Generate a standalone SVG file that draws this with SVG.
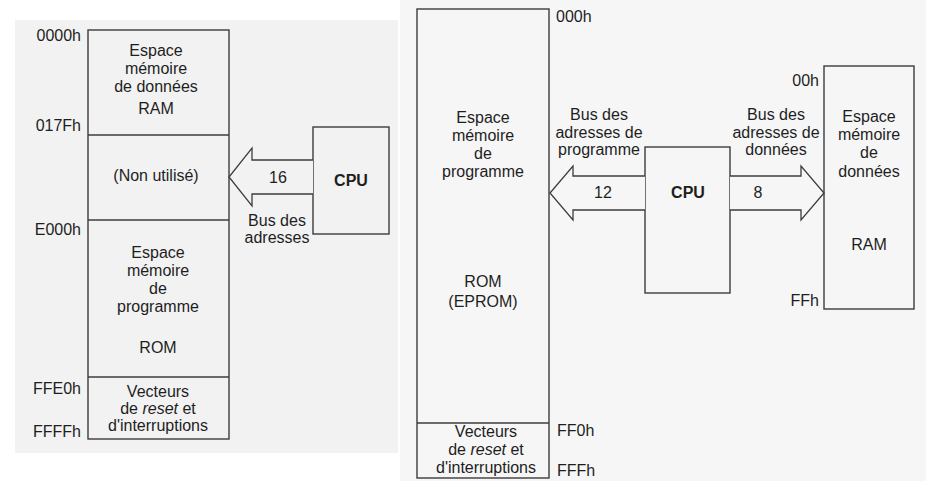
<svg xmlns="http://www.w3.org/2000/svg" width="926" height="481" viewBox="0 0 926 481">
<style>
  text { font-family: "Liberation Sans", Arial, sans-serif; font-size: 16px; fill: #1e1e1e; }
  .c { text-anchor: middle; }
  .e { text-anchor: end; }
  .b { font-weight: bold; }
  .box { fill: none; stroke: #3c3c3c; stroke-width: 1.4; }
  .div { stroke: #3c3c3c; stroke-width: 1.4; }
  .bus { stroke: #3c3c3c; stroke-width: 1.3; stroke-linejoin: miter; }
</style>
<rect x="0" y="0" width="926" height="481" fill="#ffffff"/>
<rect x="15" y="20" width="383" height="433" fill="#f2f2f2"/>
<rect x="400" y="0" width="526" height="481" fill="#f6f6f6"/>

<!-- LEFT DIAGRAM -->
<g id="left-memory-map">
  <rect class="box" x="88" y="30" width="141" height="409"/>
  <line class="div" x1="88" y1="135" x2="229" y2="135"/>
  <line class="div" x1="88" y1="220" x2="229" y2="220"/>
  <line class="div" x1="88" y1="377" x2="229" y2="377"/>
  <text class="e" x="81" y="41">0000h</text>
  <text class="e" x="81" y="131">017Fh</text>
  <text class="e" x="81" y="235">E000h</text>
  <text class="e" x="81" y="394">FFE0h</text>
  <text class="e" x="81" y="437">FFFFh</text>
  <text class="c" x="156" y="56">Espace</text>
  <text class="c" x="156" y="74">mémoire</text>
  <text class="c" x="156" y="92">de données</text>
  <text class="c" x="156" y="114">RAM</text>
  <text class="c" x="156" y="181">(Non utilisé)</text>
  <text class="c" x="158" y="258">Espace</text>
  <text class="c" x="158" y="276">mémoire</text>
  <text class="c" x="158" y="294">de</text>
  <text class="c" x="158" y="312">programme</text>
  <text class="c" x="158" y="353">ROM</text>
  <text class="c" x="158" y="397">Vecteurs</text>
  <text class="c" x="158" y="414">de <tspan font-style="italic">reset</tspan> et</text>
  <text class="c" x="158" y="431">d'interruptions</text>
</g>
<g id="left-cpu">
  <rect class="box" x="313" y="127" width="76" height="107"/>
  <text class="c b" x="351" y="186">CPU</text>
</g>

<!-- RIGHT DIAGRAM -->
<g id="program-memory">
  <rect class="box" x="417" y="9" width="132" height="469"/>
  <line class="div" x1="417" y1="423" x2="549" y2="423"/>
  <text x="556" y="22">000h</text>
  <text x="557" y="436">FF0h</text>
  <text x="557" y="476">FFFh</text>
  <text class="c" x="483" y="123">Espace</text>
  <text class="c" x="483" y="141">mémoire</text>
  <text class="c" x="483" y="159">de</text>
  <text class="c" x="483" y="177">programme</text>
  <text class="c" x="483" y="287">ROM</text>
  <text class="c" x="483" y="307">(EPROM)</text>
  <text class="c" x="486" y="437">Vecteurs</text>
  <text class="c" x="486" y="455">de <tspan font-style="italic">reset</tspan> et</text>
  <text class="c" x="486" y="473">d'interruptions</text>
</g>
<g id="right-cpu">
  <rect class="box" x="645" y="147" width="85" height="146"/>
  <text class="c b" x="688" y="198">CPU</text>
</g>
<g id="data-memory">
  <rect class="box" x="824" y="66" width="90" height="243"/>
  <text class="e" x="819" y="86">00h</text>
  <text class="e" x="819" y="306">FFh</text>
  <text class="c" x="869" y="122">Espace</text>
  <text class="c" x="869" y="140">mémoire</text>
  <text class="c" x="869" y="158">de</text>
  <text class="c" x="869" y="177">données</text>
  <text class="c" x="869" y="250">RAM</text>
</g>

<g id="connectors">
  <path class="bus" fill="#f2f2f2" d="M313,160 L252,160 L252,148 L229,177 L252,206 L252,194 L313,194"/>
  <path class="bus" fill="#f6f6f6" d="M645,176 L573,176 L573,166 L550,193 L573,220 L573,210 L645,210"/>
  <path class="bus" fill="#f6f6f6" d="M730,176 L801,176 L801,166 L824,193 L801,220 L801,210 L730,210"/>
  <text class="c" x="278" y="183">16</text>
  <text class="c" x="277" y="226">Bus des</text>
  <text class="c" x="277" y="243">adresses</text>
  <text class="c" x="603" y="198">12</text>
  <text class="c" x="599" y="120">Bus des</text>
  <text class="c" x="599" y="138">adresses de</text>
  <text class="c" x="599" y="155">programme</text>
  <text class="c" x="758" y="198">8</text>
  <text class="c" x="776" y="120">Bus des</text>
  <text class="c" x="776" y="138">adresses de</text>
  <text class="c" x="776" y="155">données</text>
</g>
</svg>
